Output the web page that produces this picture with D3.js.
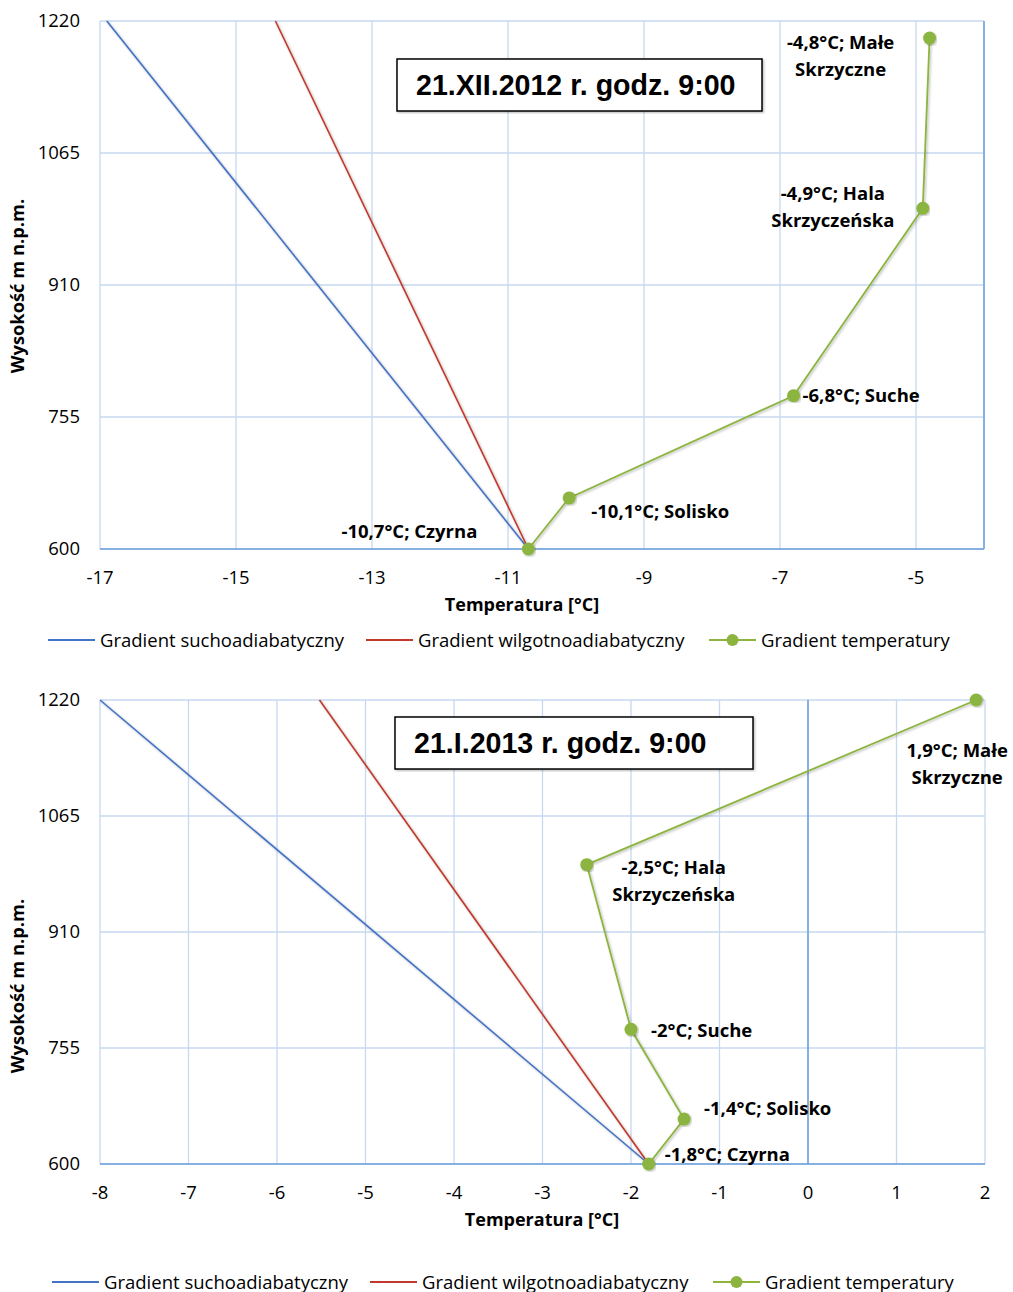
<!DOCTYPE html>
<html>
<head>
<meta charset="utf-8">
<script src="https://cdn.jsdelivr.net/npm/d3@7"></script>
<style>
  body { margin: 0; background: #fff; }
  svg { display: block; }
  text { font-family: "Open Sans", sans-serif; fill: #000; }
</style>
</head>
<body>
<div id="chart"></div>
<script>
// ---- data ----
var sites = ['Czyrna', 'Solisko', 'Suche', 'Hala Skrzyczeńska', 'Małe Skrzyczne'];

var dec2012Temp = [-10.7, -10.1, -6.8, -4.9, -4.8];
var dec2012Alt  = [600, 660, 780, 1000, 1200];
var dec2012Dry  = [[-10.7, 600], [-16.9, 1220]];
var dec2012Wet  = [[-10.7, 600], [-14.42, 1220]];
var dec2012XTicks = [-17, -15, -13, -11, -9, -7, -5];

var jan2013Temp = [-1.8, -1.4, -2, -2.5, 1.9];
var jan2013Alt  = [600, 660, 780, 1000, 1220];
var jan2013Dry  = [[-1.8, 600], [-8, 1220]];
var jan2013Wet  = [[-1.8, 600], [-5.52, 1220]];
var jan2013XTicks = [-8, -7, -6, -5, -4, -3, -2, -1, 0, 1, 2];

var altTicks = [600, 755, 910, 1065, 1220];
var legendNames = ['Gradient suchoadiabatyczny', 'Gradient wilgotnoadiabatyczny', 'Gradient temperatury'];

// ---- style ----
var colDry = '#4472c4', colWet = '#c0392b', colTemp = '#8cb43f';
var colGrid = '#c6d9f0', colAxis = '#6d9fdc';

var svg = d3.select('#chart').append('svg')
	.attr('width', 1013)
	.attr('height', 1292);

var defs = svg.append('defs');
var f = defs.append('filter').attr('id', 'shadow')
	.attr('x', '-5%').attr('y', '-5%').attr('width', '110%').attr('height', '110%');
f.append('feDropShadow').attr('dx', 1.2).attr('dy', 1.2).attr('stdDeviation', 1)
	.attr('flood-color', '#000').attr('flood-opacity', 0.28);

function fmtLabel(t, name) {
	return String(t).replace('.', ',') + '°C; ' + name;
}

function drawChart(cfg) {
	var x = d3.scaleLinear().domain(cfg.xDomain).range([cfg.left, cfg.right]);
	var y = d3.scaleLinear().domain([600, 1220]).range([cfg.bottom, cfg.top]);
	var g = svg.append('g');

	// gridlines
	g.append('g').selectAll('line').data(cfg.xGrid).enter().append('line')
		.attr('x1', function(d) { return x(d); }).attr('x2', function(d) { return x(d); })
		.attr('y1', cfg.top).attr('y2', cfg.bottom)
		.attr('stroke', colGrid).attr('stroke-width', 1.3);
	g.append('g').selectAll('line').data(altTicks).enter().append('line')
		.attr('x1', cfg.left).attr('x2', cfg.right)
		.attr('y1', function(d) { return y(d); }).attr('y2', function(d) { return y(d); })
		.attr('stroke', colGrid).attr('stroke-width', 1.3);

	// axis lines
	g.append('line').attr('x1', cfg.left).attr('x2', cfg.right)
		.attr('y1', cfg.bottom).attr('y2', cfg.bottom)
		.attr('stroke', colAxis).attr('stroke-width', 1.5);
	var vx = x(Math.min(0, cfg.xDomain[1]));
	g.append('line').attr('x1', vx).attr('x2', vx)
		.attr('y1', cfg.top).attr('y2', cfg.bottom)
		.attr('stroke', colAxis).attr('stroke-width', 1.5);

	// tick labels
	g.append('g').selectAll('text').data(cfg.xTicks).enter().append('text')
		.attr('x', function(d) { return x(d); })
		.attr('y', cfg.bottom + 35)
		.attr('text-anchor', 'middle')
		.style('font-size', '18.5px')
		.text(function(d) { return d; });
	g.append('g').selectAll('text').data(altTicks).enter().append('text')
		.attr('x', cfg.left - 20)
		.attr('y', function(d) { return y(d) + 6; })
		.attr('text-anchor', 'end')
		.style('font-size', '18.5px')
		.text(function(d) { return d; });

	// axis titles
	g.append('text')
		.attr('x', cfg.xTitleX)
		.attr('y', cfg.bottom + 62)
		.attr('text-anchor', 'middle')
		.style('font-size', '18px').style('font-weight', 'bold')
		.text('Temperatura [°C]');
	g.append('text')
		.attr('transform', 'translate(24,' + cfg.yTitleY + ') rotate(-90)')
		.attr('text-anchor', 'middle')
		.style('font-size', '18.3px').style('font-weight', 'bold')
		.text('Wysokość m n.p.m.');

	// series
	var line = d3.line().x(function(d) { return x(d[0]); }).y(function(d) { return y(d[1]); });
	g.append('path').datum(cfg.dry).attr('d', line)
		.attr('fill', 'none').attr('stroke', colDry).attr('stroke-width', 1.6)
		.attr('filter', 'url(#shadow)');
	g.append('path').datum(cfg.wet).attr('d', line)
		.attr('fill', 'none').attr('stroke', colWet).attr('stroke-width', 1.6)
		.attr('filter', 'url(#shadow)');

	var pts = cfg.temp.map(function(t, i) { return [t, cfg.alt[i]]; });
	g.append('path').datum(pts).attr('d', line)
		.attr('fill', 'none').attr('stroke', colTemp).attr('stroke-width', 1.8)
		.attr('filter', 'url(#shadow)');
	g.append('g').selectAll('circle').data(pts).enter().append('circle')
		.attr('cx', function(d) { return x(d[0]); })
		.attr('cy', function(d) { return y(d[1]); })
		.attr('r', 6.5)
		.attr('fill', colTemp)
		.attr('filter', 'url(#shadow)');

	// data labels
	var lg = g.append('g');
	pts.forEach(function(d, i) {
		var off = cfg.labelOff[i];
		var txt = fmtLabel(cfg.temp[i], sites[i]);
		var t = lg.append('text')
			.attr('x', x(d[0]) + off[0])
			.attr('y', y(d[1]) + off[1])
			.attr('text-anchor', off[2])
			.style('font-size', '18.5px').style('font-weight', 'bold');
		if (off[3]) {
			// break after "; <first word>"
			var parts = txt.split(' ');
			var first = parts.slice(0, 2).join(' ');
			var rest = parts.slice(2).join(' ');
			t.append('tspan').attr('x', x(d[0]) + off[0]).text(first);
			t.append('tspan').attr('x', x(d[0]) + off[0]).attr('dy', 27).text(rest);
		} else {
			t.text(txt);
		}
	});

	// title box
	var tb = g.append('g');
	tb.append('rect')
		.attr('x', cfg.box[0]).attr('y', cfg.box[1])
		.attr('width', cfg.box[2]).attr('height', cfg.box[3])
		.attr('fill', '#fff').attr('stroke', '#000').attr('stroke-width', 1.5)
		.attr('filter', 'url(#shadow)');
	tb.append('text')
		.attr('x', cfg.box[0] + 19)
		.attr('y', cfg.box[1] + cfg.box[3] / 2 + 10)
		.style('font-family', '"Liberation Sans", Arial, sans-serif')
		.style('font-size', '28.6px').style('font-weight', 'bold')
		.text(cfg.title);

	// legend
	var leg = g.append('g').attr('transform', 'translate(0,' + cfg.legendY + ')');
	var legCols = [colDry, colWet, colTemp];
	cfg.legendX.forEach(function(lx, i) {
		leg.append('line').attr('x1', lx).attr('x2', lx + 47).attr('y1', 0).attr('y2', 0)
			.attr('stroke', legCols[i]).attr('stroke-width', 1.8);
		if (i === 2) {
			leg.append('circle').attr('cx', lx + 23.5).attr('cy', 0).attr('r', 6).attr('fill', colTemp);
		}
		leg.append('text').attr('x', lx + 52).attr('y', 6.5)
			.style('font-size', '18.5px')
			.text(legendNames[i]);
	});
}

drawChart({
	xDomain: [-17, -4], left: 100, right: 984, top: 21, bottom: 549,
	xGrid: [-17, -15, -13, -11, -9, -7, -5, -4],
	xTicks: dec2012XTicks,
	dry: dec2012Dry, wet: dec2012Wet, temp: dec2012Temp, alt: dec2012Alt,
	labelOff: [[-119, -11, 'middle'], [91, 20, 'middle'], [9, 6, 'start'], [-90, -8, 'middle', true], [-89, 11, 'middle', true]],
	box: [397, 59, 365, 52],
	title: '21.XII.2012 r. godz. 9:00',
	xTitleX: 522, yTitleY: 286,
	legendY: 640,
	legendX: [48, 366, 709]
});

drawChart({
	xDomain: [-8, 2], left: 100, right: 985, top: 700, bottom: 1164,
	xGrid: d3.range(-8, 3),
	xTicks: jan2013XTicks,
	dry: jan2013Dry, wet: jan2013Wet, temp: jan2013Temp, alt: jan2013Alt,
	labelOff: [[16, -3, 'start'], [20, -4, 'start'], [20, 8, 'start'], [87, 9, 'middle', true], [-19, 57, 'middle', true]],
	box: [395, 717, 358, 52],
	title: '21.I.2013 r. godz. 9:00',
	xTitleX: 542, yTitleY: 986,
	legendY: 1282,
	legendX: [52, 370, 713]
});
</script>
</body>
</html>
